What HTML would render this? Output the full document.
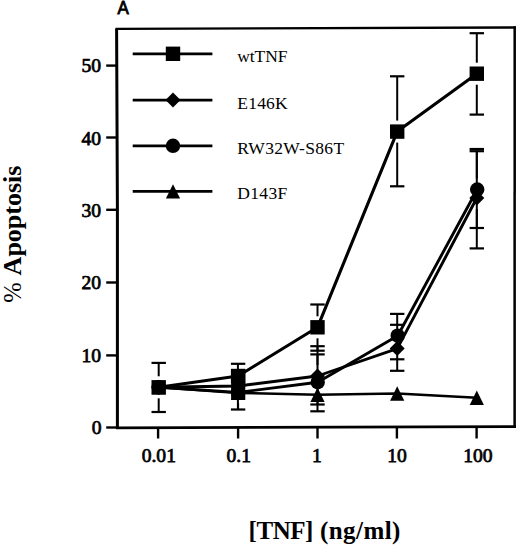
<!DOCTYPE html>
<html><head><meta charset="utf-8"><style>
html,body{margin:0;padding:0;background:#fff;}
body{width:520px;height:547px;overflow:hidden;}
svg{display:block;}
text{font-family:"Liberation Serif",serif;fill:#000;}
</style></head><body>
<svg width="520" height="547" viewBox="0 0 520 547">
<rect width="520" height="547" fill="#fff"/>

<text x="117.4" y="14.3" style="font-family:'Liberation Sans',sans-serif;font-size:18.8px" stroke="#000" stroke-width="0.9" transform="translate(117.4 0) scale(0.9 1) translate(-117.4 0)">A</text>
<g stroke="#000" stroke-linecap="square" fill="none">
<line x1="116.6" y1="28.85" x2="514.7" y2="27.5" stroke-width="2.3"/>
<line x1="514.7" y1="27.5" x2="514.6" y2="426.5" stroke-width="2.5"/>
<line x1="514.6" y1="426.7" x2="117.4" y2="427.8" stroke-width="2.7"/>
<path d="M116.6 28.85L117.4 210L117.4 427.6" stroke-width="3.0" stroke-linecap="butt"/>
</g>
<line x1="106.2" y1="427.5" x2="117" y2="427.5" stroke="#000" stroke-width="2.4"/>
<line x1="106.2" y1="355.4" x2="117" y2="355.4" stroke="#000" stroke-width="2.4"/>
<line x1="106.2" y1="282.5" x2="117" y2="282.5" stroke="#000" stroke-width="2.4"/>
<line x1="106.2" y1="209.8" x2="117" y2="209.8" stroke="#000" stroke-width="2.4"/>
<line x1="106.2" y1="137.5" x2="117" y2="137.5" stroke="#000" stroke-width="2.4"/>
<line x1="106.2" y1="65.6" x2="117" y2="65.6" stroke="#000" stroke-width="2.4"/>
<text x="101.5" y="434.4" text-anchor="end" style="font-size:19.6px" stroke="#000" stroke-width="0.75">0</text>
<text x="101.1" y="361.9" text-anchor="end" style="font-size:19.6px" stroke="#000" stroke-width="0.75">10</text>
<text x="101.1" y="289.4" text-anchor="end" style="font-size:19.6px" stroke="#000" stroke-width="0.75">20</text>
<text x="101.1" y="216.5" text-anchor="end" style="font-size:19.6px" stroke="#000" stroke-width="0.75">30</text>
<text x="101.1" y="144.8" text-anchor="end" style="font-size:19.6px" stroke="#000" stroke-width="0.75">40</text>
<text x="101.1" y="71.9" text-anchor="end" style="font-size:19.6px" stroke="#000" stroke-width="0.75">50</text>
<line x1="158.1" y1="427" x2="158.1" y2="438.5" stroke="#000" stroke-width="2.4"/>
<line x1="238.1" y1="427" x2="238.1" y2="438.5" stroke="#000" stroke-width="2.4"/>
<line x1="317.5" y1="427" x2="317.5" y2="438.5" stroke="#000" stroke-width="2.4"/>
<line x1="396.9" y1="427" x2="396.9" y2="438.5" stroke="#000" stroke-width="2.4"/>
<line x1="476.6" y1="427" x2="476.6" y2="438.5" stroke="#000" stroke-width="2.4"/>
<text x="158.8" y="462" text-anchor="middle" style="font-size:19.6px" stroke="#000" stroke-width="0.75">0.01</text>
<text x="238.8" y="462" text-anchor="middle" style="font-size:19.6px" stroke="#000" stroke-width="0.75">0.1</text>
<text x="317.0" y="462" text-anchor="middle" style="font-size:19.6px" stroke="#000" stroke-width="0.75">1</text>
<text x="397.1" y="462" text-anchor="middle" style="font-size:19.6px" stroke="#000" stroke-width="0.75">10</text>
<text x="477.9" y="462" text-anchor="middle" style="font-size:19.6px" stroke="#000" stroke-width="0.75">100</text>
<text x="248.6" y="539.2" style="font-weight:bold;font-size:25px" textLength="64.8" lengthAdjust="spacing">[TNF]</text>
<text x="320.0" y="539.2" style="font-weight:bold;font-size:25px" textLength="80.4" lengthAdjust="spacing">(ng/ml)</text>
<text transform="translate(21.2 302.8) rotate(-90)" x="0" y="0" style="font-size:24.5px">%</text>
<text transform="translate(20.8 275.4) rotate(-90)" x="0" y="0" style="font-weight:bold;font-size:26px">Apoptosis</text>
<line x1="132.7" y1="53.8" x2="212.4" y2="53.8" stroke="#000" stroke-width="2.8"/>
<rect x="165.8" y="46.6" width="14.4" height="14.4"/>
<text x="237.3" y="61.9" style="font-size:17.5px" textLength="50.2" lengthAdjust="spacing">wtTNF</text>
<line x1="132.7" y1="100.1" x2="212.4" y2="100.1" stroke="#000" stroke-width="2.8"/>
<path d="M173.0 92.6L180.5 100.1L173.0 107.6L165.5 100.1Z"/>
<text x="237.3" y="108.5" style="font-size:17.5px" textLength="50.4" lengthAdjust="spacing">E146K</text>
<line x1="132.7" y1="145.8" x2="212.4" y2="145.8" stroke="#000" stroke-width="2.8"/>
<circle cx="173.0" cy="145.8" r="7.2"/>
<text x="237.3" y="154.3" style="font-size:17.5px" textLength="106.8" lengthAdjust="spacing">RW32W-S86T</text>
<line x1="132.7" y1="191.4" x2="212.4" y2="191.4" stroke="#000" stroke-width="2.8"/>
<path d="M173.0 184.2L180.1 198.6L165.9 198.6Z"/>
<text x="237.3" y="199.1" style="font-size:17.5px" textLength="49.9" lengthAdjust="spacing">D143F</text>
<polyline points="158.7,387.3 238.1,392.9 317.5,394.8 397.2,393.5 476.8,397.7" fill="none" stroke="#000" stroke-width="2.5" stroke-linejoin="round"/>
<polyline points="158.7,387.3 238.1,392.4 317.7,382.2 397.7,335.7 477.2,189.5" fill="none" stroke="#000" stroke-width="2.9" stroke-linejoin="round"/>
<polyline points="158.7,387.3 238.1,386.0 317.5,376.0 397.2,348.6 476.8,198.0" fill="none" stroke="#000" stroke-width="2.9" stroke-linejoin="round"/>
<polyline points="158.7,387.3 238.1,376.0 317.5,327.3 397.2,131.6 476.8,73.7" fill="none" stroke="#000" stroke-width="3.1" stroke-linejoin="round"/>
<line x1="158.7" y1="362.9" x2="158.7" y2="376.3" stroke="#000" stroke-width="2.0"/>
<line x1="151.5" y1="362.9" x2="165.9" y2="362.9" stroke="#000" stroke-width="2.2"/>
<line x1="158.7" y1="398.3" x2="158.7" y2="412.0" stroke="#000" stroke-width="2.0"/>
<line x1="151.5" y1="412.0" x2="165.9" y2="412.0" stroke="#000" stroke-width="2.2"/>
<line x1="238.1" y1="363.8" x2="238.1" y2="365.0" stroke="#000" stroke-width="2.0"/>
<line x1="230.9" y1="363.8" x2="245.3" y2="363.8" stroke="#000" stroke-width="2.2"/>
<line x1="317.5" y1="304.5" x2="317.5" y2="316.3" stroke="#000" stroke-width="2.0"/>
<line x1="310.3" y1="304.5" x2="324.7" y2="304.5" stroke="#000" stroke-width="2.2"/>
<line x1="317.5" y1="338.3" x2="317.5" y2="350.7" stroke="#000" stroke-width="2.0"/>
<line x1="310.3" y1="350.7" x2="324.7" y2="350.7" stroke="#000" stroke-width="2.2"/>
<line x1="397.2" y1="76.3" x2="397.2" y2="120.6" stroke="#000" stroke-width="2.0"/>
<line x1="390.0" y1="76.3" x2="404.4" y2="76.3" stroke="#000" stroke-width="2.2"/>
<line x1="397.2" y1="142.6" x2="397.2" y2="186.3" stroke="#000" stroke-width="2.0"/>
<line x1="390.0" y1="186.3" x2="404.4" y2="186.3" stroke="#000" stroke-width="2.2"/>
<line x1="476.8" y1="33.2" x2="476.8" y2="62.7" stroke="#000" stroke-width="2.0"/>
<line x1="469.6" y1="33.2" x2="484.0" y2="33.2" stroke="#000" stroke-width="2.2"/>
<line x1="476.8" y1="84.7" x2="476.8" y2="114.6" stroke="#000" stroke-width="2.0"/>
<line x1="469.6" y1="114.6" x2="484.0" y2="114.6" stroke="#000" stroke-width="2.2"/>
<line x1="317.5" y1="346.2" x2="317.5" y2="365.0" stroke="#000" stroke-width="2.0"/>
<line x1="310.3" y1="346.2" x2="324.7" y2="346.2" stroke="#000" stroke-width="2.2"/>
<line x1="317.5" y1="387.0" x2="317.5" y2="404.5" stroke="#000" stroke-width="2.0"/>
<line x1="310.3" y1="404.5" x2="324.7" y2="404.5" stroke="#000" stroke-width="2.2"/>
<line x1="397.2" y1="324.8" x2="397.2" y2="337.6" stroke="#000" stroke-width="2.0"/>
<line x1="390.0" y1="324.8" x2="404.4" y2="324.8" stroke="#000" stroke-width="2.2"/>
<line x1="397.2" y1="359.6" x2="397.2" y2="370.8" stroke="#000" stroke-width="2.0"/>
<line x1="390.0" y1="370.8" x2="404.4" y2="370.8" stroke="#000" stroke-width="2.2"/>
<line x1="476.8" y1="149.0" x2="476.8" y2="187.0" stroke="#000" stroke-width="2.0"/>
<line x1="469.6" y1="149.0" x2="484.0" y2="149.0" stroke="#000" stroke-width="2.2"/>
<line x1="476.8" y1="209.0" x2="476.8" y2="248.4" stroke="#000" stroke-width="2.0"/>
<line x1="469.6" y1="248.4" x2="484.0" y2="248.4" stroke="#000" stroke-width="2.2"/>
<line x1="317.5" y1="354.4" x2="317.5" y2="371.0" stroke="#000" stroke-width="2.0"/>
<line x1="310.3" y1="354.4" x2="324.7" y2="354.4" stroke="#000" stroke-width="2.2"/>
<line x1="317.5" y1="393.0" x2="317.5" y2="411.3" stroke="#000" stroke-width="2.0"/>
<line x1="310.3" y1="411.3" x2="324.7" y2="411.3" stroke="#000" stroke-width="2.2"/>
<line x1="397.2" y1="313.9" x2="397.2" y2="324.7" stroke="#000" stroke-width="2.0"/>
<line x1="390.0" y1="313.9" x2="404.4" y2="313.9" stroke="#000" stroke-width="2.2"/>
<line x1="397.2" y1="346.7" x2="397.2" y2="359.3" stroke="#000" stroke-width="2.0"/>
<line x1="390.0" y1="359.3" x2="404.4" y2="359.3" stroke="#000" stroke-width="2.2"/>
<line x1="476.8" y1="151.2" x2="476.8" y2="178.5" stroke="#000" stroke-width="2.0"/>
<line x1="469.6" y1="151.2" x2="484.0" y2="151.2" stroke="#000" stroke-width="2.2"/>
<line x1="476.8" y1="200.5" x2="476.8" y2="228.0" stroke="#000" stroke-width="2.0"/>
<line x1="469.6" y1="228.0" x2="484.0" y2="228.0" stroke="#000" stroke-width="2.2"/>
<line x1="238.1" y1="403.0" x2="238.1" y2="409.5" stroke="#000" stroke-width="2.0"/>
<line x1="230.9" y1="409.5" x2="245.3" y2="409.5" stroke="#000" stroke-width="2.2"/>
<rect x="231.1" y="369" width="14.2" height="30.8"/>
<line x1="237.9" y1="363.8" x2="237.9" y2="409.5" stroke="#000" stroke-width="2"/>
<path d="M158.7 380.1L165.8 394.5L151.6 394.5Z"/>
<path d="M238.1 385.7L245.2 400.1L231.0 400.1Z"/>
<path d="M317.5 387.6L324.6 402.0L310.4 402.0Z"/>
<path d="M397.2 386.3L404.3 400.7L390.1 400.7Z"/>
<path d="M476.8 390.5L483.9 404.9L469.7 404.9Z"/>
<circle cx="158.7" cy="387.3" r="7.2"/>
<circle cx="238.1" cy="392.4" r="7.2"/>
<circle cx="317.7" cy="382.2" r="7.2"/>
<circle cx="397.7" cy="335.7" r="7.2"/>
<circle cx="477.2" cy="189.5" r="7.2"/>
<path d="M158.7 379.8L166.2 387.3L158.7 394.8L151.2 387.3Z"/>
<path d="M238.1 378.5L245.6 386.0L238.1 393.5L230.6 386.0Z"/>
<path d="M317.5 368.5L325.0 376.0L317.5 383.5L310.0 376.0Z"/>
<path d="M397.2 341.1L404.7 348.6L397.2 356.1L389.7 348.6Z"/>
<path d="M476.8 190.5L484.3 198.0L476.8 205.5L469.3 198.0Z"/>
<rect x="151.5" y="380.1" width="14.4" height="14.4"/>
<rect x="230.9" y="368.8" width="14.4" height="14.4"/>
<rect x="310.3" y="320.1" width="14.4" height="14.4"/>
<rect x="390.0" y="124.4" width="14.4" height="14.4"/>
<rect x="469.6" y="66.5" width="14.4" height="14.4"/>
</svg>
</body></html>
